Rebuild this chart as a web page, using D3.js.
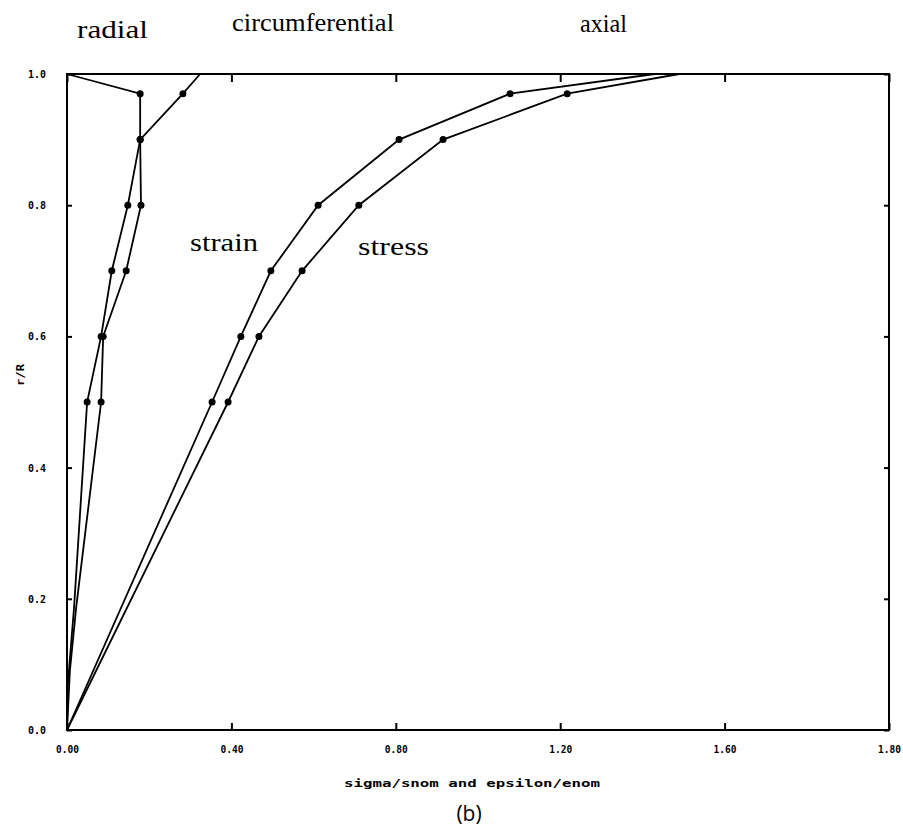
<!DOCTYPE html>
<html>
<head>
<meta charset="utf-8">
<script src="https://cdn.jsdelivr.net/npm/d3@7"></script>
<style>
  body { margin: 0; background: #fff; }
  svg { display: block; }
</style>
</head>
<body>
<div id="chart"></div>
<script>
// r/R values and the x positions (sigma/snom or epsilon/enom)
var rRadial = [0, 0.09, 0.185, 0.5, 0.6, 0.7, 0.8, 0.9, 0.97, 1.0];
var radial  = [0, 0.007, 0.022, 0.083, 0.088, 0.144, 0.180, 0.178, 0.178, 0];

var rCirc = [0, 0.07, 0.185, 0.5, 0.6, 0.7, 0.8, 0.9, 0.97, 1.0];
var circ  = [0, 0.002, 0.017, 0.049, 0.083, 0.109, 0.148, 0.178, 0.282, 0.324];

var rAxial = [0, 0.5, 0.6, 0.7, 0.8, 0.9, 0.97, 1.0];
var axialStrain = [0, 0.353, 0.423, 0.496, 0.611, 0.808, 1.078, 1.43];
var axialStress = [0, 0.392, 0.467, 0.572, 0.710, 0.915, 1.217, 1.49];

// r/R positions that carry a dot marker
var markedR = [0.5, 0.6, 0.7, 0.8, 0.9, 0.97];

var xTicks = [0, 0.4, 0.8, 1.2, 1.6, 2.0];
var xTickLabels = ["0.00", "0.40", "0.80", "1.20", "1.60", "1.80"];
var yTicks = [0, 0.2, 0.4, 0.6, 0.8, 1.0];
var yTickLabels = ["0.0", "0.2", "0.4", "0.6", "0.8", "1.0"];

var width = 903, height = 838;
var margin = {left: 67, right: 14, top: 74, bottom: 108};

var svg = d3.select("#chart").append("svg")
  .attr("width", width)
  .attr("height", height);

var x = d3.scaleLinear().domain([0, 2.0]).range([margin.left, width - margin.right]);
var y = d3.scaleLinear().domain([0, 1.0]).range([height - margin.bottom, margin.top]);

function series(rs, xs) {
  return rs.map(function(r, i) { return {r: r, v: xs[i]}; });
}

var allSeries = [
  series(rRadial, radial),
  series(rCirc, circ),
  series(rAxial, axialStrain),
  series(rAxial, axialStress)
];

// axes (ticks point inward)
var tickFont = "'DejaVu Sans Mono', monospace";

var bottom = svg.append("g")
  .attr("transform", "translate(0," + y(0) + ")")
  .call(d3.axisBottom(x).tickValues(xTicks).tickSize(-7).tickPadding(15)
    .tickFormat(function(d, i) { return xTickLabels[i]; }));

svg.append("g")
  .attr("transform", "translate(0," + y(1) + ")")
  .call(d3.axisTop(x).tickValues(xTicks).tickSize(-8).tickFormat(""));

var left = svg.append("g")
  .attr("transform", "translate(" + x(0) + ",0)")
  .call(d3.axisLeft(y).tickValues(yTicks).tickSize(-5).tickPadding(21)
    .tickFormat(function(d, i) { return yTickLabels[i]; }));

svg.append("g")
  .attr("transform", "translate(" + x(2.0) + ",0)")
  .call(d3.axisRight(y).tickValues(yTicks).tickSize(-5).tickFormat(""));

svg.selectAll(".domain").remove();
svg.selectAll(".tick line").attr("stroke", "#000").attr("stroke-width", 2);
svg.selectAll(".tick text")
  .attr("fill", "#000")
  .style("font-family", tickFont)
  .style("font-weight", "bold")
  .style("font-size", "11px");
bottom.selectAll(".tick text").attr("textLength", 23).attr("lengthAdjust", "spacingAndGlyphs");
left.selectAll(".tick text").attr("textLength", 18).attr("lengthAdjust", "spacingAndGlyphs");

// frame
svg.append("rect")
  .attr("x", x(0))
  .attr("y", y(1))
  .attr("width", x(2.0) - x(0))
  .attr("height", y(0) - y(1))
  .attr("fill", "none")
  .attr("stroke", "#000")
  .attr("stroke-width", 2);

// curves
var line = d3.line()
  .x(function(d) { return x(d.v); })
  .y(function(d) { return y(d.r); });

svg.append("g").selectAll("path")
  .data(allSeries)
  .join("path")
  .attr("d", line)
  .attr("fill", "none")
  .attr("stroke", "#000")
  .attr("stroke-width", 1.8);

svg.append("g").selectAll("g")
  .data(allSeries)
  .join("g")
  .selectAll("circle")
  .data(function(s) { return s.filter(function(d) { return markedR.indexOf(d.r) >= 0; }); })
  .join("circle")
  .attr("cx", function(d) { return x(d.v); })
  .attr("cy", function(d) { return y(d.r); })
  .attr("r", 3.5)
  .attr("fill", "#000");

// labels
var serif = "'Liberation Serif', 'Times New Roman', serif";
function label(txt, x0, y0, len) {
  svg.append("text")
    .attr("x", x0).attr("y", y0)
    .attr("textLength", len)
    .attr("lengthAdjust", "spacingAndGlyphs")
    .style("font-family", serif)
    .style("font-size", "26px")
    .attr("fill", "#000")
    .text(txt);
}
label("radial", 77, 38, 71);
label("circumferential", 232, 31, 162);
label("axial", 580, 32, 47);
label("strain", 190, 251, 68);
label("stress", 358, 255, 71);

// axis titles
svg.append("text")
  .attr("x", 472).attr("y", 787)
  .attr("text-anchor", "middle")
  .attr("textLength", 256)
  .attr("lengthAdjust", "spacingAndGlyphs")
  .style("font-family", tickFont)
  .style("font-weight", "bold")
  .style("font-size", "11px")
  .text("sigma/snom and epsilon/enom");

svg.append("text")
  .attr("transform", "translate(24,375) rotate(-90)")
  .attr("text-anchor", "middle")
  .attr("textLength", 22)
  .attr("lengthAdjust", "spacingAndGlyphs")
  .style("font-family", tickFont)
  .style("font-weight", "bold")
  .style("font-size", "11px")
  .text("r/R");

svg.append("text")
  .attr("x", 469).attr("y", 821)
  .attr("text-anchor", "middle")
  .style("font-family", "'Open Sans', 'Liberation Sans', sans-serif")
  .style("font-size", "21px")
  .attr("fill", "#000")
  .text("(b)");
</script>
</body>
</html>
